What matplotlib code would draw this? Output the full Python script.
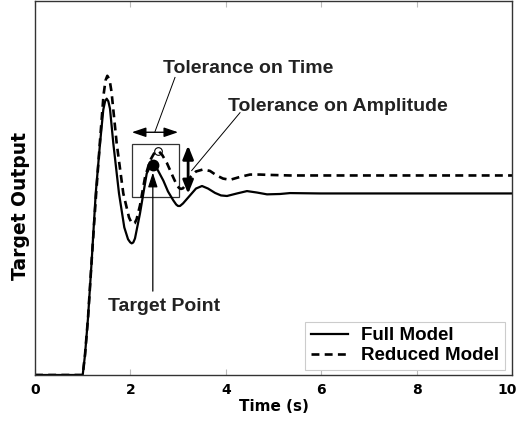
import matplotlib
matplotlib.use("Agg")
import matplotlib.pyplot as plt
from matplotlib.patches import Rectangle
from matplotlib.transforms import ScaledTranslation

# ---- data ----
t_full = [0.0, 1.0, 1.048, 1.111, 1.189, 1.273, 1.363, 1.432, 1.470, 1.503, 1.537, 1.572,
          1.642, 1.761, 1.872, 1.950, 1.995, 2.027, 2.060, 2.096, 2.201, 2.342, 2.411,
          2.474, 2.530, 2.579, 2.690, 2.788, 2.899, 2.960, 2.998, 3.040, 3.103, 3.249,
          3.375, 3.501, 3.627, 3.774, 3.899, 4.025, 4.235, 4.444, 4.654, 4.864, 5.136,
          5.346, 5.975, 10.0]
y_full = [0.0, 0.0, 0.110, 0.313, 0.632, 1.000, 1.275, 1.462, 1.508, 1.522, 1.508, 1.467,
          1.275, 1.000, 0.813, 0.748, 0.731, 0.725, 0.730, 0.752, 0.890, 1.110, 1.146,
          1.157, 1.150, 1.126, 1.071, 1.011, 0.962, 0.939, 0.931, 0.931, 0.945, 0.989,
          1.027, 1.041, 1.027, 1.003, 0.989, 0.986, 1.000, 1.013, 1.005, 0.995, 0.997,
          1.002, 1.000, 1.000]

t_red = [0.0, 1.0, 1.048, 1.111, 1.195, 1.279, 1.363, 1.436, 1.478, 1.516, 1.562, 1.604,
         1.713, 1.851, 1.971, 2.020, 2.055, 2.090, 2.130, 2.201, 2.306, 2.411, 2.495, 2.585,
         2.662, 2.761, 2.899, 2.977, 3.020, 3.061, 3.100, 3.145, 3.249, 3.375, 3.522, 3.669,
         3.809, 3.941, 4.088, 4.298, 4.507, 4.717, 4.927, 5.346, 10.0]
y_red = [0.0, 0.0, 0.110, 0.313, 0.659, 0.989, 1.291, 1.540, 1.622, 1.648, 1.628, 1.560,
         1.275, 1.000, 0.868, 0.840, 0.832, 0.836, 0.858, 0.934, 1.088, 1.181, 1.220, 1.234,
         1.214, 1.170, 1.088, 1.044, 1.030, 1.025, 1.028, 1.042, 1.088, 1.121, 1.132, 1.124,
         1.099, 1.082, 1.075, 1.091, 1.104, 1.104, 1.102, 1.099, 1.099]

series_labels = ["Full Model", "Reduced Model"]
x_ticks = [0, 2, 4, 6, 8, 10]

target_t, target_y = 2.48, 1.154
reduced_pt_t, reduced_pt_y = 2.585, 1.234
box_t = (2.03, 3.02)
box_y = (0.98, 1.273)
time_arrow_y = 1.337
amp_arrow_t = 3.21
amp_arrow_y = (0.998, 1.264)

# ---- figure ----
plt.rcParams['font.family'] = ['Liberation Sans', 'DejaVu Sans']
fig = plt.figure(figsize=(5.2, 4.26), dpi=100)
ax = fig.add_axes([35/520, 1 - 375/426, 477/520, 374/426])

ax.plot(t_full, y_full, color='black', lw=1.6, label=series_labels[0])
l2, = ax.plot(t_red, y_red, color='black', lw=1.9, label=series_labels[1])
l2.set_dashes((3.0, 2.0))

ax.set_xlim(0, 10)
ax.set_ylim(0, 2.06)
ax.set_xticks(x_ticks)
ax.set_xticklabels([str(v) for v in x_ticks], fontsize=10, fontweight='bold',
                   family='DejaVu Sans')
ax.set_yticks([])
ax.tick_params(axis='x', direction='in', top=True, bottom=True, length=4,
               color='#bbbbbb', pad=6)
last = ax.xaxis.get_major_ticks()[-1].label1
last.set_transform(last.get_transform() + ScaledTranslation(-4.5/100, 0, fig.dpi_scale_trans))
for s in ax.spines.values():
    s.set_linewidth(1.0)
    s.set_color('#333333')

ax.set_xlabel('Time (s)', fontsize=11, fontweight='bold', family='DejaVu Sans', labelpad=1)
ax.set_ylabel('Target Output', fontsize=13.5, fontweight='bold', family='DejaVu Sans')
ax.yaxis.set_label_coords(-0.010, 0.452)

# tolerance box
ax.add_patch(Rectangle((box_t[0], box_y[0]), box_t[1] - box_t[0], box_y[1] - box_y[0],
                       fill=False, edgecolor='#333333', lw=0.9))
# horizontal (time) double arrow
ax.annotate('', xy=(box_t[0], time_arrow_y), xytext=(box_t[1] - 0.02, time_arrow_y),
            arrowprops=dict(arrowstyle='<|-|>,head_length=0.5,head_width=0.17',
                            color='black', lw=1.0, mutation_scale=17, shrinkA=0, shrinkB=0))
# vertical (amplitude) double arrow
ax.annotate('', xy=(amp_arrow_t, amp_arrow_y[0]), xytext=(amp_arrow_t, amp_arrow_y[1]),
            arrowprops=dict(arrowstyle='<|-|>,head_length=0.5,head_width=0.2',
                            color='black', lw=2.0, mutation_scale=16, shrinkA=0, shrinkB=0))

# target point
ax.plot([target_t], [target_y], 'o', color='black', ms=7.5, zorder=5)
ax.plot([reduced_pt_t], [reduced_pt_y], 'o', mfc='none', mec='black', ms=5.5, mew=0.8, zorder=5)
ax.annotate('', xy=(target_t - 0.01, 1.115), xytext=(target_t - 0.01, 0.462),
            arrowprops=dict(arrowstyle='-|>,head_length=0.55,head_width=0.18',
                            color='black', lw=0.9, mutation_scale=16, shrinkA=0, shrinkB=0))

ann_font = dict(fontsize=14, fontweight='bold', color='#222222')
ax.text(2.69, 1.666, 'Tolerance on Time', ha='left', va='baseline', **ann_font)
ax.plot([2.935, 2.516], [1.639, 1.341], color='black', lw=0.7)
ax.text(4.05, 1.455, 'Tolerance on Amplitude', ha='left', va='baseline', **ann_font)
ax.plot([4.298, 3.285], [1.445, 1.126], color='black', lw=0.7)
ax.text(1.52, 0.350, 'Target Point', ha='left', va='baseline', **ann_font)

leg = ax.legend(loc='lower right', bbox_to_anchor=(0.9853, 0.0134), borderaxespad=0,
                fancybox=False, framealpha=1, edgecolor='#cccccc',
                prop=dict(size=13.5, weight='bold'), handlelength=2.0,
                handletextpad=0.7, labelspacing=0.15, borderpad=0.3)
leg.get_frame().set_linewidth(0.8)

fig.savefig('out.png', dpi=100)
